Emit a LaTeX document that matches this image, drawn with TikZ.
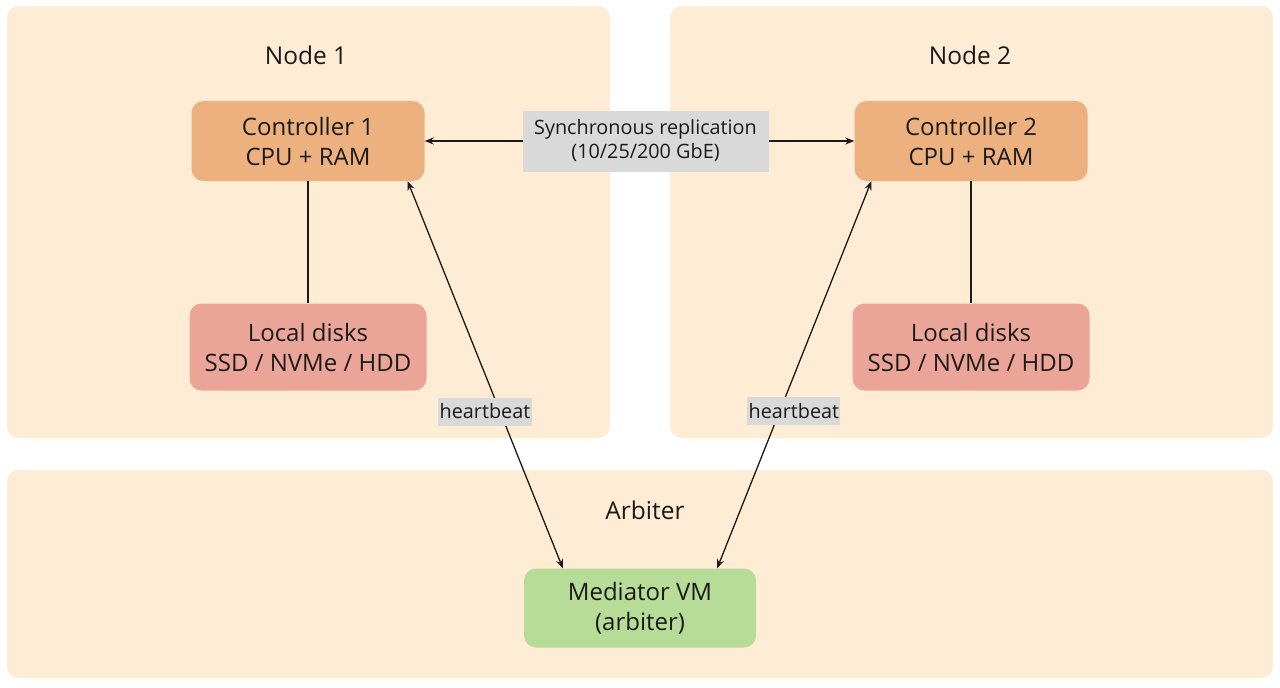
\documentclass[tikz,border=0pt]{standalone}
\usepackage{fontspec}
\setmainfont{Open Sans}
\usetikzlibrary{arrows.meta,calc}
\definecolor{panel}{HTML}{FEECD5}
\definecolor{ctl}{HTML}{EDB17F}
\definecolor{disk}{HTML}{EBA598}
\definecolor{med}{HTML}{B6DC97}
\definecolor{lbl}{HTML}{D9D9D9}
\definecolor{ink}{HTML}{1A1A1A}
\tikzset{
  panelbox/.style={fill=panel,draw=none,rounded corners=12pt},
  title/.style={font=\fontsize{24.5}{29}\selectfont,text=ink},
  blockbox/.style={draw=none,rounded corners=12pt,minimum width=233pt,minimum height=80pt,align=center,font=\fontsize{24}{30}\selectfont,text=ink,inner sep=0pt},
  tag/.style={fill=lbl,font=\fontsize{19.8}{24}\selectfont,text=ink,align=center,inner sep=0pt},
  conn/.style={line width=1.3pt,draw=ink},
  arr/.style={conn,{Stealth[length=9pt,width=7pt]}-{Stealth[length=9pt,width=7pt]}}
}
\begin{document}
\begin{tikzpicture}[x=1pt,y=-1pt]
\useasboundingbox[fill=white] (0,0) rectangle (1280,688);
\path[panelbox] (7,6) rectangle (610,438);
\path[panelbox] (670,6) rectangle (1273,438);
\path[panelbox] (7,470) rectangle (1273,678);
\node[title] (t1) at (306,55) {Node 1};
\node[title] (t2) at (970,55) {Node 2};
\node[title] (t3) at (645,510) {Arbiter};
\node[blockbox,fill=ctl] (c1) at (308,141) {Controller 1\\CPU + RAM};
\node[blockbox,fill=ctl] (c2) at (971,141) {Controller 2\\CPU + RAM};
\node[blockbox,fill=disk,minimum width=237pt,minimum height=87pt] (d1) at (308,347) {Local disks\\SSD / NVMe / HDD};
\node[blockbox,fill=disk,minimum width=237pt,minimum height=87pt] (d2) at (971,347) {Local disks\\SSD / NVMe / HDD};
\node[blockbox,fill=med,minimum width=232pt,minimum height=79pt] (m) at (640,608) {Mediator VM\\(arbiter)};
\draw[arr] (c1.east) -- node[tag,xshift=6pt,minimum width=246pt,minimum height=61pt] (rep) {Synchronous replication\\(10/25/200 GbE)} (c2.west);
\draw[conn] (c1.south) -- (d1.north);
\draw[conn] (c2.south) -- (d2.north);
\draw[arr] ($(c1.south west)!0.927!(c1.south east)$) -- node[tag,pos=0.595,xshift=-15pt,minimum width=93pt,minimum height=28pt] (hb1) {heartbeat} ($(m.north west)!0.168!(m.north east)$);
\draw[arr] ($(c2.south west)!0.073!(c2.south east)$) -- node[tag,pos=0.593,xshift=14pt,minimum width=93pt,minimum height=28pt] (hb2) {heartbeat} ($(m.north west)!0.832!(m.north east)$);
\end{tikzpicture}
\end{document}
